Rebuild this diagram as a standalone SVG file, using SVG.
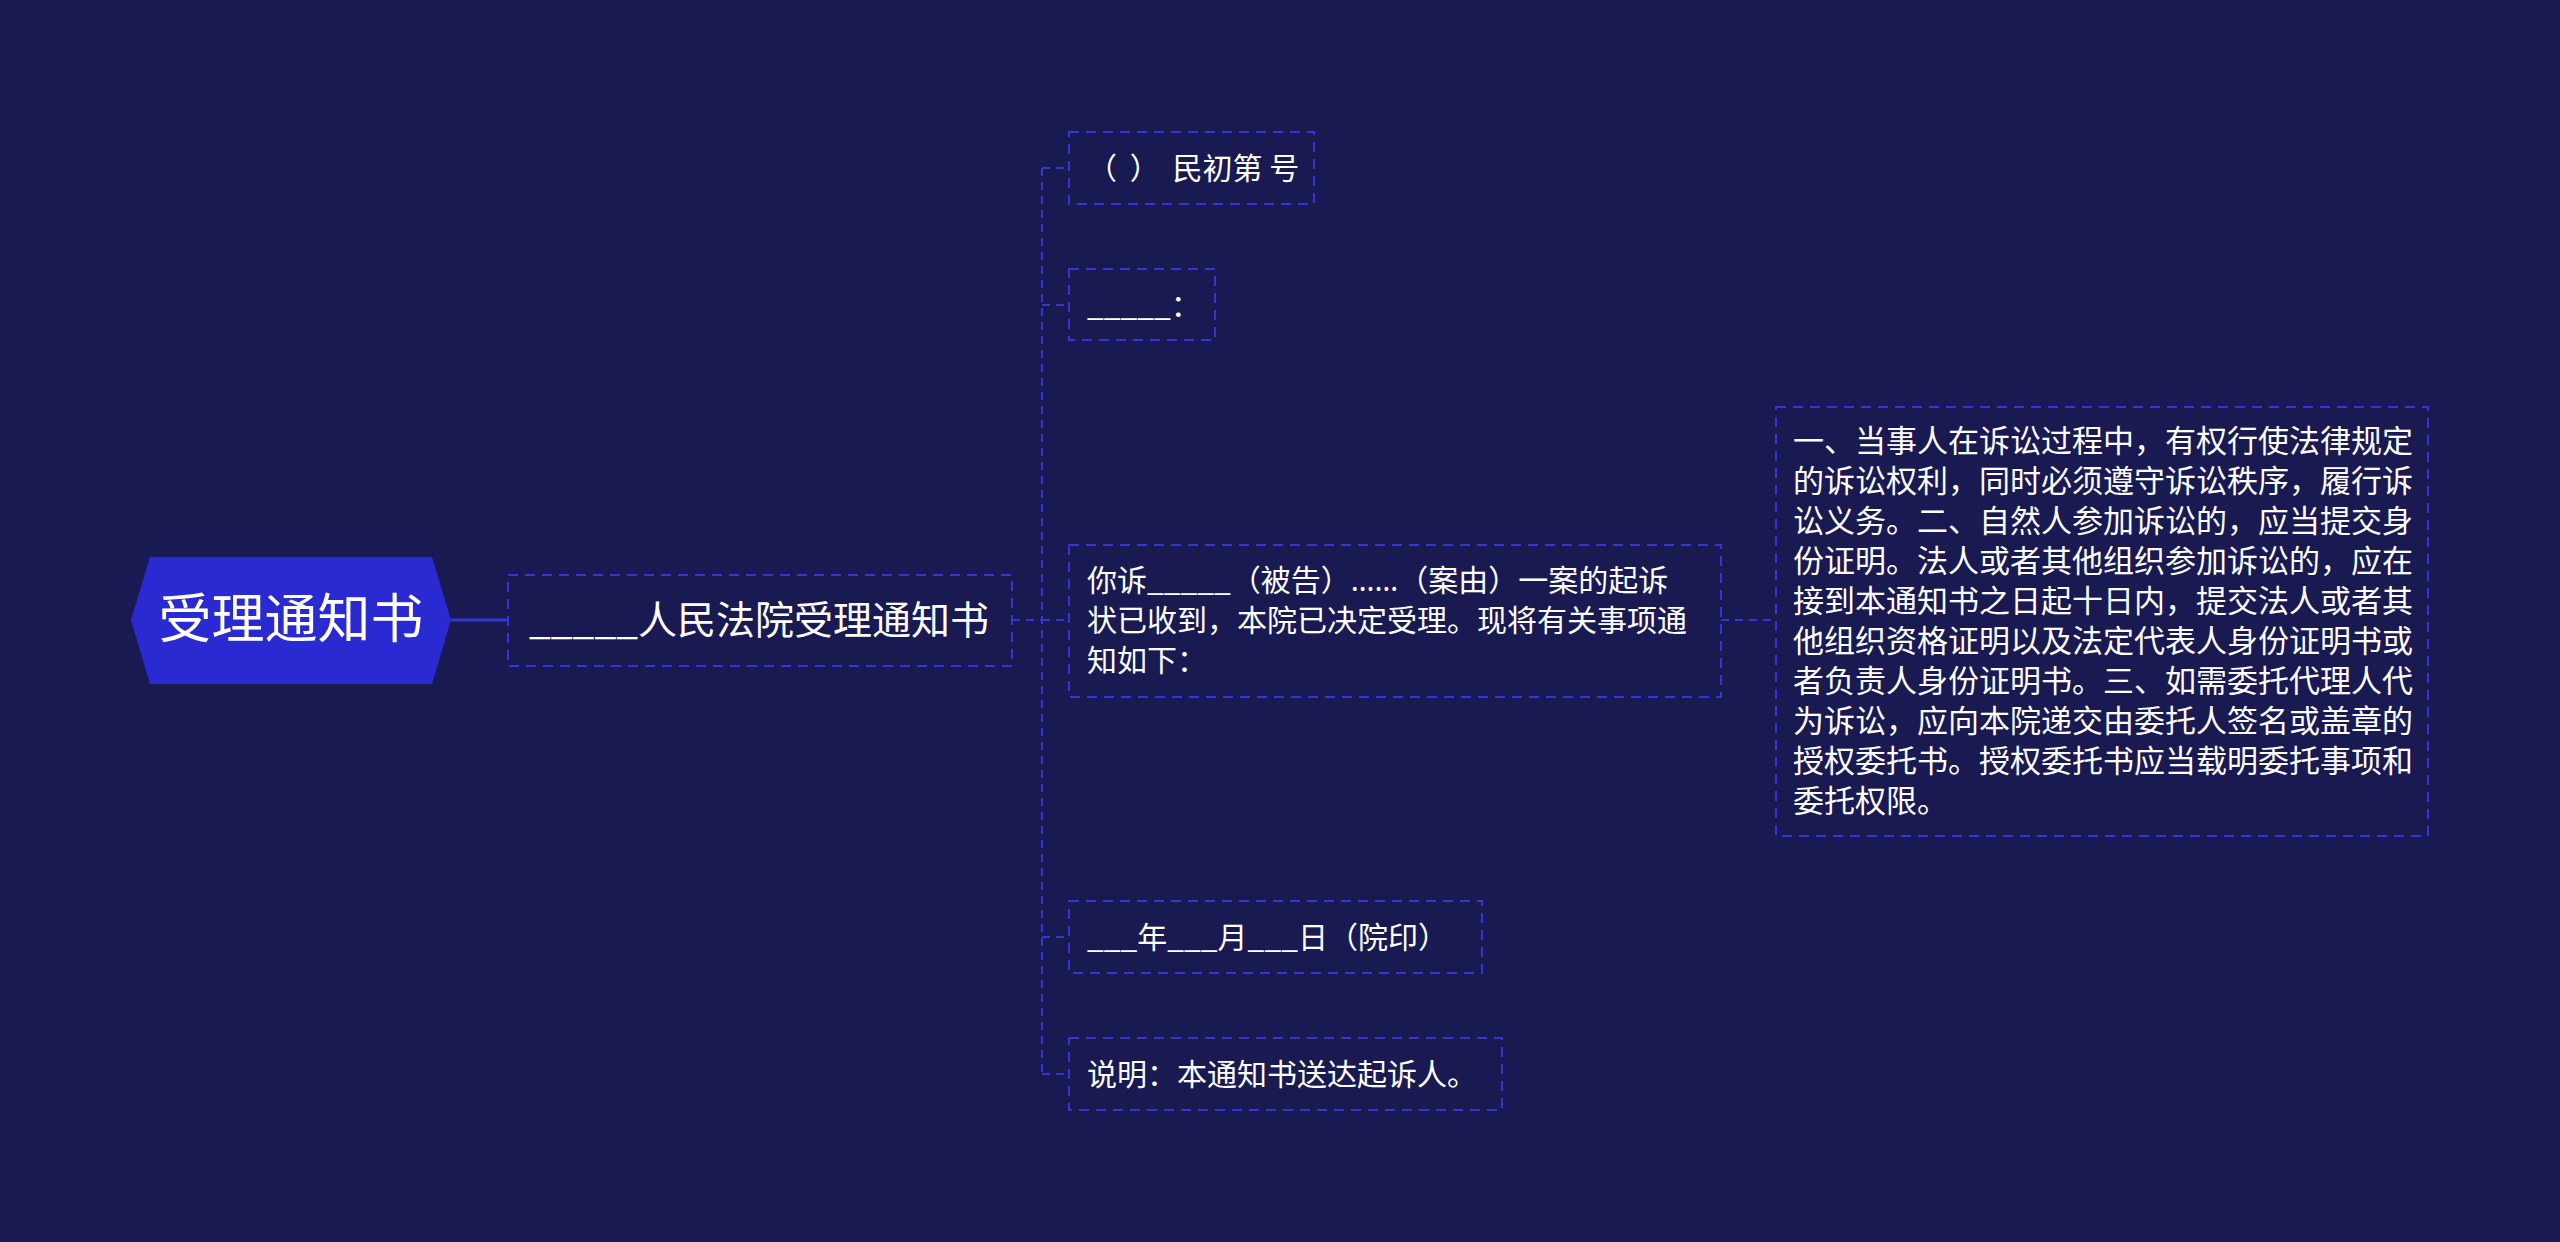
<svg xmlns="http://www.w3.org/2000/svg" width="2560" height="1242" viewBox="0 0 2560 1242">
<style>
.bg{fill:#1a1a52}
.box{fill:none;stroke:#3535d2;stroke-width:2;stroke-dasharray:10 7}
.link{fill:none;stroke:#3535d2;stroke-width:2;stroke-dasharray:8 6}
.solid{fill:none;stroke:#3535d2;stroke-width:3}
.t{fill:#ffffff;font-family:"Noto Sans CJK SC","Noto Sans",sans-serif}
.t2{font-size:30px}
.t3{font-size:31px}
.lat{font-family:"Noto Sans","Liberation Sans",sans-serif}
</style>
<rect class="bg" x="0" y="0" width="2560" height="1242"/>
<g id="connectors">
<line class="solid" x1="451" y1="620" x2="508" y2="620"/>
<line class="link" x1="1012" y1="620" x2="1042" y2="620"/>
<line class="link" x1="1042" y1="168" x2="1042" y2="1074"/>
<line class="link" x1="1042" y1="168" x2="1069" y2="168"/>
<line class="link" x1="1042" y1="305" x2="1069" y2="305"/>
<line class="link" x1="1042" y1="620" x2="1069" y2="620"/>
<line class="link" x1="1042" y1="937" x2="1069" y2="937"/>
<line class="link" x1="1042" y1="1074" x2="1069" y2="1074"/>
<line class="link" x1="1721" y1="620" x2="1776" y2="620"/>
</g>
<g id="root">
<polygon points="131,620 150,557 432,557 451,620 432,684 150,684" fill="#2a2ad2"/>
<text class="t" x="291" y="638" font-size="53" text-anchor="middle">受理通知书</text>
</g>
<g id="n1">
<rect class="box" x="508" y="575" width="504" height="91"/>
<text class="t" x="529" y="634" font-size="39">_____人民法院受理通知书</text>
</g>
<g id="n2">
<rect class="box" x="1069" y="132" width="245" height="72"/>
<text class="t t2" x="1087" y="179">（<tspan dx="6"> </tspan>）<tspan dx="6"> </tspan>民初第 号</text>
</g>
<g id="n3">
<rect class="box" x="1069" y="269" width="146" height="71"/>
<text class="t t2" x="1087" y="316">_____：</text>
</g>
<g id="n4">
<rect class="box" x="1069" y="545" width="652" height="152"/>
<text class="t t2" x="1087" y="591">你诉_____（被告）<tspan class="lat">……</tspan>（案由）一案的起诉</text>
<text class="t t2" x="1087" y="631">状已收到，本院已决定受理。现将有关事项通</text>
<text class="t t2" x="1087" y="671">知如下：</text>
</g>
<g id="n5">
<rect class="box" x="1069" y="901" width="413" height="72"/>
<text class="t t2" x="1087" y="948">___年___月___日（院印）</text>
</g>
<g id="n6">
<rect class="box" x="1069" y="1038" width="433" height="72"/>
<text class="t t2" x="1087" y="1085">说明：本通知书送达起诉人。</text>
</g>
<g id="n7">
<rect class="box" x="1776" y="407" width="652" height="429"/>
<text class="t t3" x="1793" y="452">一、当事人在诉讼过程中，有权行使法律规定</text>
<text class="t t3" x="1793" y="492">的诉讼权利，同时必须遵守诉讼秩序，履行诉</text>
<text class="t t3" x="1793" y="532">讼义务。二、自然人参加诉讼的，应当提交身</text>
<text class="t t3" x="1793" y="572">份证明。法人或者其他组织参加诉讼的，应在</text>
<text class="t t3" x="1793" y="612">接到本通知书之日起十日内，提交法人或者其</text>
<text class="t t3" x="1793" y="652">他组织资格证明以及法定代表人身份证明书或</text>
<text class="t t3" x="1793" y="692">者负责人身份证明书。三、如需委托代理人代</text>
<text class="t t3" x="1793" y="732">为诉讼，应向本院递交由委托人签名或盖章的</text>
<text class="t t3" x="1793" y="772">授权委托书。授权委托书应当载明委托事项和</text>
<text class="t t3" x="1793" y="812">委托权限。</text>
</g>
</svg>
